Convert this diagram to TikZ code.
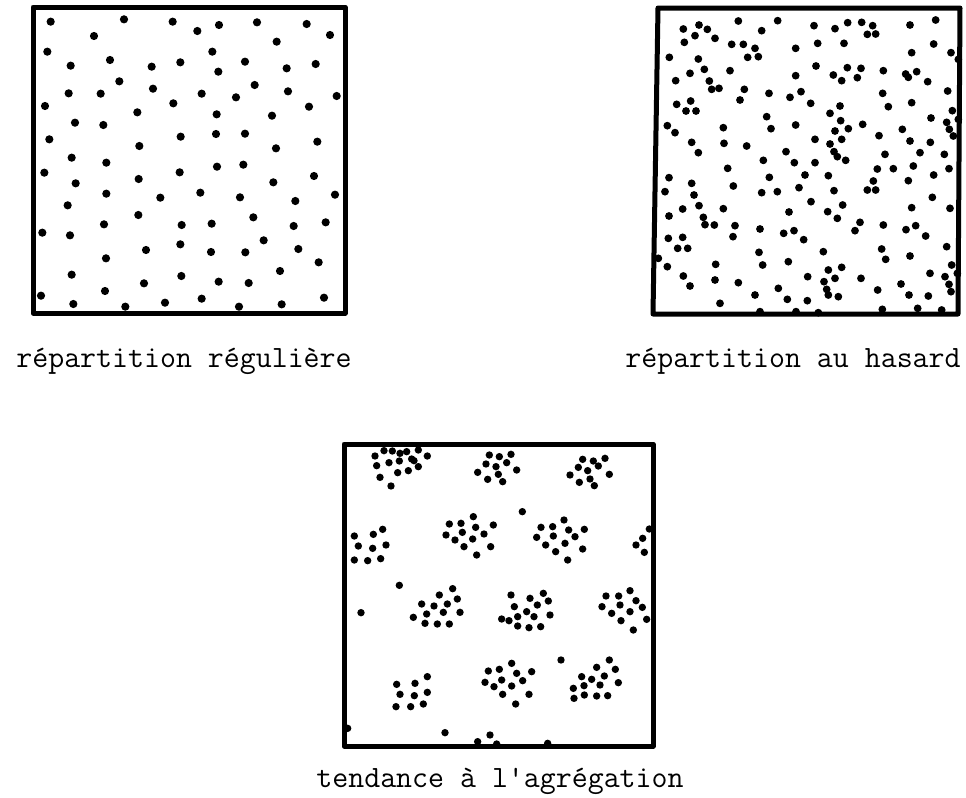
\documentclass[tikz,border=0pt]{standalone}
\usepackage{tikz}

\begin{document}
\begin{tikzpicture}[x=0.5pt, y=-0.5pt, frame/.style={line width=2.5pt, line join=round}, dot/.style={fill=black}, caption/.style={font=\fontsize{15.5}{18}\selectfont\ttfamily, anchor=base, inner sep=0pt}]

\useasboundingbox (0,0) rectangle (966,798);

% regular distribution
\draw[frame] (33,7) rectangle (345,313);
\foreach \x/\y in {92/65,312/58,458/65,532/93,597/75,711/67,860/72,930/105,222/108,770/125,
  82/155,577/155,152/197,270/180,395/200,481/187,595/215,675/185,800/205,887/192,
  298/244,146/280,242/281,399/266,545/281,648/292,704/255,804/274,950/288,
  75/318,460/310,352/337,590/343,756/347,867/320,
  165/368,250/375,88/418,482/410,588/402,675/401,892/425,358/438,768/445,
  155/473,259/488,73/518,479/517,591/500,670/494,882/528,356/537,760/547,167/550,
  259/581,541/578,421/593,660/592,945/584,143/616,826/603,
  355/645,252/673,485/675,575/671,700/652,917/667,821/678,67/698,150/706,
  731/721,481/733,378/750,573/756,676/757,835/747,258/775,896/787,
  155/824,484/828,780/813,372/850,596/845,686/849,255/873,63/887,160/912,316/920,
  435/908,545/896,657/920,785/913,912/893}
  \fill[dot] ({20+\x/3},{\y/3}) circle[radius=4.1];

% random distribution
\draw[frame] (658,8) -- (960,8) -- (958,314) -- (653,314) -- cycle;
\foreach \x/\y in {115/87,162/75,187/88,150/107,210/115,280/63,350/92,398/62,507/77,570/86,
  608/68,650/67,683/77,667/103,692/102,795/75,872/60,
  118/127,260/133,295/133,330/145,308/172,340/170,452/145,518/130,597/130,866/132,
  800/158,918/158,940/178,
  73/172,160/177,178/208,135/220,255/212,92/242,193/243,200/268,222/265,298/268,
  452/227,513/198,565/225,590/242,607/203,648/205,637/233,715/212,782/222,790/232,
  815/215,848/245,
  372/280,435/292,468/275,497/310,285/300,95/313,137/303,123/333,153/333,555/340,
  585/318,713/280,730/320,800/308,908/273,922/332,
  67/377,90/398,235/383,365/350,378/386,452/375,570/393,587/362,610/386,653/373,
  858/354,905/367,913/388,925/408,940/358,
  140/427,160/458,237/430,305/438,510/418,555/432,590/418,567/455,577/470,602/481,
  423/455,448/488,510/488,355/481,702/407,720/463,772/388,795/423,825/458,856/427,898/463,
  72/533,60/575,140/550,147/585,248/505,265/558,373/532,350/578,397/575,462/563,
  480/525,550/527,567/572,498/605,697/507,745/506,685/543,667/570,692/570,790/542,
  805/498,866/525,912/506,862/592,
  113/627,72/648,162/617,175/652,180/674,208/675,235/626,270/677,264/710,345/687,
  432/636,416/700,447/692,476/719,548/635,577/655,593/615,645/667,630/692,715/675,
  783/689,812/677,800/623,842/708,915/625,
  70/715,113/712,98/745,128/745,212/793,342/757,353/795,430/785,535/755,550/810,
  570/835,590/802,710/747,722/778,795/768,905/740,920/795,
  67/800,115/828,135/858,210/840,280/848,330/885,400/865,427/898,488/830,487/902,
  537/845,545/868,550/885,580/890,648/835,698/870,768/852,792/885,855/820,850/888,
  900/830,912/853,918/875,937/820,
  225/910,345/935,453/935,520/938,712/928,818/925,890/930,40/775}
  \fill[dot] ({645+\x/3},{\y/3}) circle[radius=3.9];

% aggregated distribution
\draw[frame] (344,444) rectangle (653,746);
\foreach \x/\y in {135/78,162/62,187/63,210/70,230/65,265/60,292/78,140/107,177/98,208/93,
  245/87,265/110,235/122,203/128,150/142,183/168,252/92,
  478/75,508/80,543/73,468/102,498/110,530/98,443/127,505/133,560/120,473/148,518/155,
  758/88,790/93,825/85,745/112,773/122,805/108,720/135,780/147,838/133,748/157,793/167,
  577/245,
  73/318,130/313,158/298,85/348,128/355,168/345,73/390,113/392,152/386,
  358/282,393/280,430/260,490/285,348/315,397/307,437/292,462/312,375/330,428/327,
  402/350,482/350,440/375,
  633/292,668/290,702/270,716/300,763/298,620/322,670/318,735/320,647/345,705/340,
  758/357,677/365,713/390,
  958/297,938/325,918/345,943/367,208/466,93/548,
  368/476,328/495,382/507,275/522,312/528,352/522,250/562,290/552,340/547,390/547,
  285/580,322/582,358/582,
  543/495,600/505,640/490,655/513,553/530,590/545,622/525,515/567,537/572,563/560,
  612/560,660/555,563/588,597/593,632/590,
  828/498,866/498,900/482,918/512,816/530,870/525,937/532,845/550,900/545,873/572,
  950/568,910/600,
  693/690,
  200/763,255/760,292/740,210/793,253/797,292/787,198/830,242/830,280/822,
  475/723,508/718,545/700,560/730,605/725,465/757,515/750,578/752,492/770,545/768,
  518/793,597/793,557/822,
  838/690,800/712,755/740,785/748,823/738,856/718,865/758,730/775,762/767,810/765,
  732/805,763/795,800/798,833/797,
  53/895,345/908,480/915,443/935,500/942,653/940}
  \fill[dot] ({330+\x/3},{430+\y/3}) circle[radius=3.7];

\node[caption] (regular) at (184,367) {répartition régulière};
\node[caption] (random) at (793,367) {répartition au hasard};
\node[caption] (aggregate) at (500,787) {tendance à l'agrégation};

\end{tikzpicture}
\end{document}
